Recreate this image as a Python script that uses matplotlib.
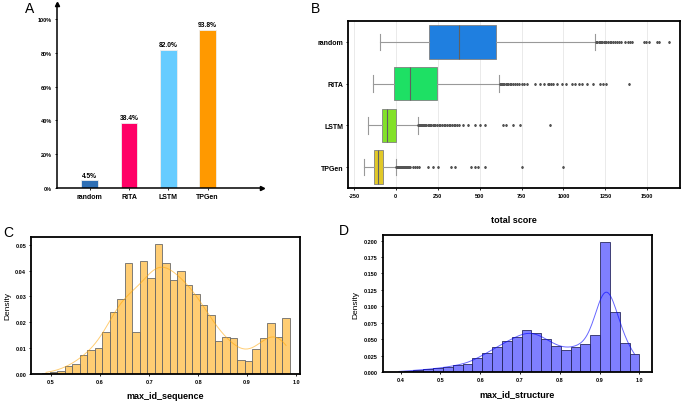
import numpy as np
import matplotlib
matplotlib.use('Agg')
import matplotlib.pyplot as plt
import seaborn as sns

plt.rcParams['font.family'] = ['Liberation Sans', 'DejaVu Sans']

# ---- panel A: success rate
methods = ['random', 'RITA', 'LSTM', 'TPGen']
rate = [4.5, 38.4, 82.0, 93.8]
bar_colors = ['#2e6fb5', '#ff0066', '#66ccff', '#ff9900']

# ---- panel B: total score box stats
box_names = ['random', 'RITA', 'LSTM', 'TPGen']
whislo = [-92, -135, -165, -191]
q1 = [198, -10, -83, -131]
med = [377, 83, -52, -105]
q3 = [596, 243, 2, -76]
whishi = [1191, 614, 135, 4]
fliers = [
    [1197, 1203, 1210, 1218, 1225, 1232, 1240, 1248, 1256, 1265, 1275, 1285, 1295, 1305,
     1318, 1330, 1346, 1365, 1382, 1398, 1410, 1478, 1492, 1512, 1560, 1572, 1632],
    [620, 626, 633, 640, 648, 655, 663, 672, 680, 690, 700, 712, 722, 735, 750, 765, 780,
     830, 862, 885, 905, 915, 925, 935, 960, 990, 1018, 1048, 1070, 1092, 1112, 1140,
     1176, 1216, 1236, 1256, 1392],
    [135, 140, 145, 150, 155, 160, 168, 175, 182, 190, 198, 205, 212, 220, 228, 235, 245,
     255, 265, 275, 285, 295, 305, 315, 325, 335, 345, 355, 365, 380, 402, 431, 471, 501,
     531, 640, 660, 700, 740, 918],
    [4, 8, 12, 16, 20, 25, 30, 35, 40, 45, 50, 55, 60, 66, 72, 78, 84, 100, 112, 125, 140,
     193, 223, 252, 332, 352, 451, 471, 491, 531, 750, 998],
]
box_colors = ['#1f7fe0', '#1ee064', '#82e128', '#e1c828']
score_ticks = [-250, 0, 250, 500, 750, 1000, 1250, 1500]

# ---- panel C: max_id_sequence histogram
seq_edges = list(np.linspace(0.482, 0.987, 34))
seq_heights = [0.0004, 0.0008, 0.0012, 0.0031, 0.0039, 0.0075, 0.0094, 0.0101, 0.0164,
               0.0240, 0.0290, 0.0428, 0.0163, 0.0438, 0.0372, 0.0501, 0.0430, 0.0364,
               0.0400, 0.0345, 0.0310, 0.0267, 0.0230, 0.0128, 0.0143, 0.0138, 0.0055,
               0.0052, 0.0098, 0.0138, 0.0197, 0.0145, 0.0215]

# ---- panel D: max_id_structure histogram
str_edges = list(np.linspace(0.383, 1.0, 26))
str_heights = [0.0005, 0.0020, 0.0030, 0.0040, 0.0061, 0.0071, 0.0112, 0.0122, 0.0214,
               0.0290, 0.0380, 0.0470, 0.0536, 0.0633, 0.0600, 0.0505, 0.0400, 0.0342,
               0.0388, 0.0423, 0.0556, 0.1974, 0.0913, 0.0439, 0.0280]

fig = plt.figure(figsize=(6.85, 4.02), dpi=100)

tick_font = dict(fontsize=4, fontweight='bold')

# ================= A
axA = fig.add_axes([0.0832, 0.5299, 0.2993, 0.4577])
xa = np.arange(len(methods))
axA.bar(xa, rate, width=0.42, color=bar_colors, edgecolor='#eeeeee', linewidth=0.6)
for x, v in zip(xa, rate):
    axA.text(x, v + 1, '%.1f%%' % v, ha='center', va='bottom', fontsize=4.8, fontweight='bold')
axA.set_xlim(-0.83, 4.38)
axA.set_ylim(0, 109)
axA.set_yticks([0, 20, 40, 60, 80, 100])
axA.set_yticklabels(['0%', '20%', '40%', '60%', '80%', '100%'], **tick_font)
axA.set_xticks(xa)
axA.set_xticklabels(methods, fontsize=5, fontweight='bold')
for s in ['top', 'right']:
    axA.spines[s].set_visible(False)
for s in ['left', 'bottom']:
    axA.spines[s].set_linewidth(1.1)
axA.tick_params(axis='both', length=1.5, width=0.6, pad=2)
axA.plot(1, 0, '>k', markersize=3, transform=axA.transAxes, clip_on=False)
axA.plot(0, 1, '^k', markersize=3, transform=axA.transAxes, clip_on=False)

# ================= B
axB = fig.add_axes([0.508, 0.5299, 0.4847, 0.4154])
stats = []
for i in range(len(box_names)):
    stats.append(dict(label=box_names[i], whislo=whislo[i], q1=q1[i], med=med[i],
                      q3=q3[i], whishi=whishi[i], fliers=fliers[i]))
bp = axB.bxp(stats, positions=range(len(box_names)), widths=0.8, orientation='horizontal',
             patch_artist=True,
             boxprops=dict(edgecolor='#808080', linewidth=0.6),
             whiskerprops=dict(color='#999999', linewidth=0.8),
             capprops=dict(color='#999999', linewidth=0.8),
             medianprops=dict(color='#606060', linewidth=0.8),
             flierprops=dict(marker='d', markersize=1.1, markerfacecolor='#555555',
                             markeredgecolor='#555555', linestyle='none'))
for patch, c in zip(bp['boxes'], box_colors):
    patch.set_facecolor(c)
axB.set_ylim(3.5, -0.5)
axB.set_xlim(-285, 1695)
axB.set_xticks(score_ticks)
axB.set_xticklabels([str(t) for t in score_ticks], **tick_font)
axB.set_yticks(range(len(box_names)))
axB.set_yticklabels(box_names, fontsize=5, fontweight='bold')
axB.grid(axis='x', color='#e6e6e6', linewidth=0.6)
axB.set_axisbelow(True)
for s in axB.spines.values():
    s.set_linewidth(1.3)
axB.tick_params(axis='both', length=1.5, width=0.6, pad=2)
axB.set_xlabel('total score', fontsize=6.5, fontweight='bold', labelpad=12)

# ================= C
axC = fig.add_axes([0.0453, 0.0672, 0.3927, 0.3408])
seq_centers = [(a + b) / 2 for a, b in zip(seq_edges[:-1], seq_edges[1:])]
sns.histplot(x=seq_centers, weights=seq_heights, bins=seq_edges, stat='count', kde=True,
             color='orange', alpha=0.55, edgecolor='#6a6a6a', linewidth=0.6,
             kde_kws=dict(bw_adjust=0.45),
             line_kws=dict(linewidth=0.7, alpha=0.55), ax=axC)
axC.set_xlim(0.459, 1.008)
axC.set_ylim(0, 0.053)
axC.set_xticks([0.5, 0.6, 0.7, 0.8, 0.9, 1.0])
axC.set_xticklabels(['0.5', '0.6', '0.7', '0.8', '0.9', '1.0'], **tick_font)
axC.set_yticks([0, 0.01, 0.02, 0.03, 0.04, 0.05])
axC.set_yticklabels(['0.00', '0.01', '0.02', '0.03', '0.04', '0.05'], **tick_font)
axC.set_xlabel('max_id_sequence', fontsize=6.5, fontweight='bold', labelpad=5)
axC.set_ylabel('Density', fontsize=6, labelpad=3)

# ================= D
axD = fig.add_axes([0.5587, 0.0721, 0.3927, 0.3408])
str_centers = [(a + b) / 2 for a, b in zip(str_edges[:-1], str_edges[1:])]
sns.histplot(x=str_centers, weights=str_heights, bins=str_edges, stat='count', kde=True,
             color='blue', alpha=0.5, edgecolor='#2a2a60', linewidth=0.6,
             kde_kws=dict(bw_adjust=0.3),
             line_kws=dict(linewidth=0.7, alpha=0.6), ax=axD)
axD.set_xlim(0.355, 1.031)
axD.set_ylim(0, 0.2085)
axD.set_xticks([0.4, 0.5, 0.6, 0.7, 0.8, 0.9, 1.0])
axD.set_xticklabels(['0.4', '0.5', '0.6', '0.7', '0.8', '0.9', '1.0'], **tick_font)
dt = [0, 0.025, 0.05, 0.075, 0.1, 0.125, 0.15, 0.175, 0.2]
axD.set_yticks(dt)
axD.set_yticklabels(['%.3f' % t for t in dt], **tick_font)
axD.set_xlabel('max_id_structure', fontsize=6.5, fontweight='bold', labelpad=5)
axD.set_ylabel('Density', fontsize=6, labelpad=3)

for ax in [axC, axD]:
    for s in ax.spines.values():
        s.set_linewidth(1.3)
    ax.tick_params(axis='both', length=1.5, width=0.6, pad=2)

# panel letters
fig.text(30 / 685, 1 - 9 / 402, 'A', fontsize=10, ha='center', va='center')
fig.text(315 / 685, 1 - 9 / 402, 'B', fontsize=10, ha='center', va='center')
fig.text(8 / 685, 1 - 233 / 402, 'C', fontsize=10, ha='center', va='center')
fig.text(344 / 685, 1 - 231 / 402, 'D', fontsize=10, ha='center', va='center')

fig.savefig('out.png', dpi=100)
